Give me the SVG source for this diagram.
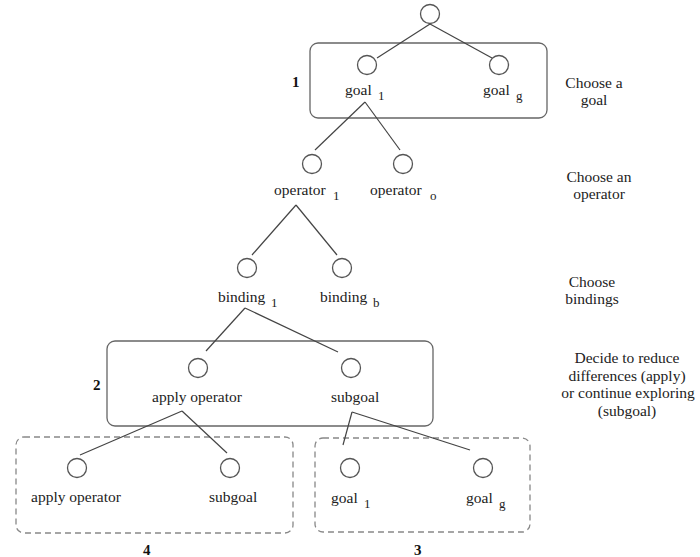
<svg xmlns="http://www.w3.org/2000/svg" width="700" height="557" viewBox="0 0 700 557">
<style>
  .bg{fill:#ffffff}
  .c{fill:#ffffff;stroke:#555;stroke-width:1.3}
  .e{stroke:#444;stroke-width:1.2;fill:none}
  .box{fill:none;stroke:#666;stroke-width:1.3}
  .dbox{fill:none;stroke:#888;stroke-width:1.3;stroke-dasharray:6,4}
  text{font-family:"Liberation Serif","Times New Roman",serif;fill:#222}
  .t{font-size:15.5px}
  .s{font-size:13px}
  .n{font-size:15px;font-weight:bold;fill:#111}
  .a{font-size:15.5px;text-anchor:middle}
</style>
<rect class="bg" x="0" y="0" width="700" height="557"/>
<g id="frames">
  <rect id="box1" class="box" x="310" y="43" width="237" height="75" rx="8"/>
  <rect id="box2" class="box" x="107" y="341" width="326" height="85" rx="8"/>
  <rect id="box4" class="dbox" x="16" y="437" width="277" height="96" rx="8"/>
  <rect id="box3" class="dbox" x="315" y="438" width="215" height="94" rx="8"/>
</g>
<g id="connectors">
  <line class="e" x1="430" y1="24" x2="377" y2="58"/>
  <line class="e" x1="430" y1="24" x2="492" y2="58"/>
  <line class="e" x1="365" y1="102" x2="315" y2="150"/>
  <line class="e" x1="365" y1="102" x2="400" y2="150"/>
  <line class="e" x1="296" y1="205" x2="252" y2="255"/>
  <line class="e" x1="296" y1="205" x2="337" y2="255"/>
  <line class="e" x1="245" y1="308" x2="206" y2="351"/>
  <line class="e" x1="245" y1="308" x2="338" y2="352"/>
  <line class="e" x1="182" y1="411" x2="80" y2="455"/>
  <line class="e" x1="182" y1="411" x2="227" y2="453"/>
  <line class="e" x1="352" y1="412" x2="343" y2="445"/>
  <line class="e" x1="352" y1="412" x2="470" y2="450"/>
</g>
<g id="root"><circle class="c" cx="430" cy="14" r="9.5"/></g>
<g id="goal1"><circle class="c" cx="367" cy="65" r="9.5"/><text class="t" x="345" y="95">goal</text><text class="s" x="378" y="100">1</text></g>
<g id="goalg"><circle class="c" cx="499" cy="65" r="9.5"/><text class="t" x="483" y="95">goal</text><text class="s" x="516" y="100">g</text></g>
<g id="operator1"><circle class="c" cx="312" cy="164" r="9.5"/><text class="t" x="274" y="195">operator</text><text class="s" x="333" y="200">1</text></g>
<g id="operatoro"><circle class="c" cx="403" cy="164" r="9.5"/><text class="t" x="370" y="195">operator</text><text class="s" x="430" y="200">o</text></g>
<g id="binding1"><circle class="c" cx="247" cy="268" r="9.5"/><text class="t" x="218" y="302">binding</text><text class="s" x="271" y="307">1</text></g>
<g id="bindingb"><circle class="c" cx="342" cy="268" r="9.5"/><text class="t" x="320" y="302">binding</text><text class="s" x="373" y="307">b</text></g>
<g id="apply1"><circle class="c" cx="198" cy="368" r="9.5"/><text class="t" x="152" y="402">apply operator</text></g>
<g id="subgoal1"><circle class="c" cx="351" cy="368" r="9.5"/><text class="t" x="331" y="402">subgoal</text></g>
<g id="apply2"><circle class="c" cx="77" cy="468" r="9.5"/><text class="t" x="31" y="502">apply operator</text></g>
<g id="subgoal2"><circle class="c" cx="230" cy="468" r="9.5"/><text class="t" x="209" y="502">subgoal</text></g>
<g id="goal1b"><circle class="c" cx="350" cy="468" r="9.5"/><text class="t" x="331" y="503">goal</text><text class="s" x="364" y="508">1</text></g>
<g id="goalgb"><circle class="c" cx="483" cy="468" r="9.5"/><text class="t" x="466" y="503">goal</text><text class="s" x="499" y="508">g</text></g>
<g id="numbers">
  <text class="n" x="292" y="87">1</text>
  <text class="n" x="93" y="390">2</text>
  <text class="n" x="414" y="555">3</text>
  <text class="n" x="143" y="555">4</text>
</g>
<g id="annotations">
  <text class="a" x="594" y="88">Choose a</text>
  <text class="a" x="594" y="105">goal</text>
  <text class="a" x="599" y="182">Choose an</text>
  <text class="a" x="599" y="199">operator</text>
  <text class="a" x="592" y="287">Choose</text>
  <text class="a" x="592" y="304">bindings</text>
  <text class="a" x="627" y="363">Decide to reduce</text>
  <text class="a" x="627" y="381">differences (apply)</text>
  <text class="a" x="628" y="398">or continue exploring</text>
  <text class="a" x="627" y="416">(subgoal)</text>
</g>
</svg>
